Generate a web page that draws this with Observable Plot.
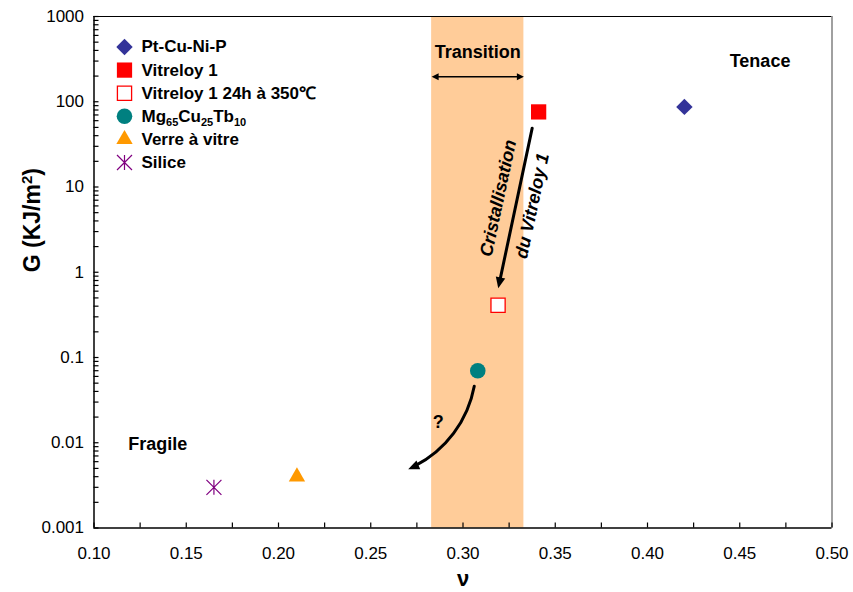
<!DOCTYPE html>
<html>
<head>
<meta charset="utf-8">
<script src="https://cdn.jsdelivr.net/npm/d3@7"></script>
<script src="https://cdn.jsdelivr.net/npm/@observablehq/plot@0.6"></script>
<style>
  body { margin: 0; background: #fff; }
  svg { display: block; }
</style>
</head>
<body>
<div id="chart"></div>
<script>
// ---------- data ----------
const series = ["Pt-Cu-Ni-P", "Vitreloy 1", "Vitreloy 1 24h à 350℃", "Mg65Cu25Tb10", "Verre à vitre", "Silice"];
const nu = [0.420, 0.341, 0.319, 0.308, 0.210, 0.165];
const G = [87, 76, 0.41, 0.070, 0.0040, 0.0030];

const xTicks = [0.10, 0.15, 0.20, 0.25, 0.30, 0.35, 0.40, 0.45, 0.50];
const xTickLabels = ["0.10", "0.15", "0.20", "0.25", "0.30", "0.35", "0.40", "0.45", "0.50"];
const xMinorTicks = [0.125, 0.175, 0.225, 0.275, 0.325, 0.375, 0.425, 0.475];
const yTicks = [0.001, 0.01, 0.1, 1, 10, 100, 1000];
const yTickLabels = ["0.001", "0.01", "0.1", "1", "10", "100", "1000"];

const transitionNu = [0.283, 0.333];

const labelTexts = ["Tenace", "Fragile", "Transition", "?"];
const labelNu = [0.461, 0.1345, 0.308, 0.2866];
const labelG = [295, 0.0097, 377, 0.0172];

const crystTexts = ["Cristallisation", "du Vitreloy 1"];
const crystNu = [0.3191, 0.3375];
const crystG = [7.4, 6.0];

// arrows: [nu1, G1, nu2, G2]
const crystArrow = [0.3375, 49, 0.3191, 0.65];
const questionArrow = [0.3061, 0.046, 0.2703, 0.0049];
const transitionArrowG = 197;

// ---------- styles ----------
const asterisk = {
  draw(ctx, size) {
    const h = Math.sqrt(size / Math.PI);
    ctx.moveTo(0, -h); ctx.lineTo(0, h);
    ctx.moveTo(-h, -h); ctx.lineTo(h, h);
    ctx.moveTo(-h, h); ctx.lineTo(h, -h);
  }
};
// filled arrowhead with its tip at the origin, pointing up
function head(len, halfW) {
  return {draw(ctx) { ctx.moveTo(0, 0); ctx.lineTo(halfW, len); ctx.lineTo(-halfW, len); ctx.closePath(); }};
}
const styles = [
  {symbol: "diamond2", r: 7.4, fill: "#333399", stroke: "none"},
  {symbol: "square", r: 8.6, fill: "#FF0000", stroke: "none"},
  {symbol: "square", r: 8.0, fill: "#FFFFFF", stroke: "#FF0000", strokeWidth: 1.3},
  {symbol: "circle", r: 7.8, fill: "#008080", stroke: "none"},
  {symbol: "triangle2", r: 7.8, fill: "#FF9900", stroke: "none"},
  {symbol: asterisk, r: 7.5, fill: "none", stroke: "#800080", strokeWidth: 1.2}
];

// minor log ticks
const yMinor = [];
for (let e = -3; e < 3; e++) for (let m = 2; m <= 9; m++) yMinor.push(m * Math.pow(10, e));

const idx = series.map((_, i) => i);

const marks = [
  // transition band
  Plot.rect([transitionNu], {x1: d => d[0], x2: d => d[1], y1: 0.001, y2: 1000, fill: "#FFCC99"}),
  // frame
  Plot.ruleY([1000], {stroke: "#000", strokeWidth: 1}),
  Plot.ruleX([0.5], {stroke: "#808080", strokeWidth: 1.5}),
  Plot.ruleX([0.1], {stroke: "#000", strokeWidth: 1.5}),
  Plot.ruleY([0.001], {stroke: "#000", strokeWidth: 1.5}),
  // ticks (inward)
  Plot.axisX(xTicks.concat(xMinorTicks), {anchor: "bottom", tickSize: -5, fill: "none", label: null, strokeWidth: 1.2}),
  Plot.axisY(yTicks.concat(yMinor), {anchor: "left", tickSize: -5, fill: "none", label: null, strokeWidth: 1.2}),
  // tick labels
  Plot.text(xTicks, {x: d => d, frameAnchor: "bottom", lineAnchor: "middle", dy: 26, text: (d, i) => xTickLabels[i], fontSize: 17}),
  Plot.text(yTicks, {y: d => d, frameAnchor: "left", dx: -10, textAnchor: "end", text: (d, i) => yTickLabels[i], fontSize: 17}),
  // axis titles
  Plot.text(["G (KJ/m2)"], {frameAnchor: "left", dx: -61, rotate: -90, fontSize: 23, fontWeight: "bold", text: d => d}),
  Plot.text(["ν"], {frameAnchor: "bottom", lineAnchor: "middle", dy: 51, fontSize: 22, fontWeight: "bold", text: d => d}),
  // annotations
  Plot.text(labelTexts, {x: (d, i) => labelNu[i], y: (d, i) => labelG[i], text: d => d, fontSize: 18, fontWeight: "bold"}),
  Plot.text(crystTexts, {x: (d, i) => crystNu[i], y: (d, i) => crystG[i], text: d => d, rotate: -78, fontSize: 18, fontWeight: "bold", fontStyle: "italic"}),
  // crystallisation arrow
  Plot.arrow([crystArrow], {x1: d => d[0], y1: d => d[1], x2: d => d[2], y2: d => d[3], strokeWidth: 3, headLength: 0, insetEnd: 7, stroke: "#000"}),
  Plot.dot([crystArrow], {x: d => d[2], y: d => d[3], symbol: head(11, 4.8), rotate: 192, fill: "#000", stroke: "none"}),
  // question arrow (curved)
  Plot.arrow([questionArrow], {x1: d => d[0], y1: d => d[1], x2: d => d[2], y2: d => d[3], strokeWidth: 3, headLength: 0, insetEnd: 7, bend: 28, stroke: "#000"}),
  Plot.dot([questionArrow], {x: d => d[2], y: d => d[3], symbol: head(11, 4.8), rotate: 247, fill: "#000", stroke: "none"}),
  // transition double arrow
  Plot.arrow([transitionNu], {x1: d => d[0], x2: d => d[1], y1: transitionArrowG, y2: transitionArrowG, strokeWidth: 1.5, headLength: 0, insetStart: 5, insetEnd: 5, stroke: "#000"}),
  Plot.dot([transitionNu[0]], {x: d => d, y: transitionArrowG, symbol: head(7, 3.5), rotate: 270, fill: "#000", stroke: "none"}),
  Plot.dot([transitionNu[1]], {x: d => d, y: transitionArrowG, symbol: head(7, 3.5), rotate: 90, fill: "#000", stroke: "none"}),
];

// data points
idx.forEach(i => {
  const s = styles[i];
  marks.push(Plot.dot([i], {x: j => nu[j], y: j => G[j], ...s}));
});

// legend
idx.forEach(i => {
  const s = styles[i];
  marks.push(Plot.dot([i], {frameAnchor: "top-left", dx: 30.5, dy: 30.5 + 23.1 * i, ...s}));
  marks.push(Plot.text([series[i]], {frameAnchor: "top-left", lineAnchor: "middle", dx: 47.5, dy: 30.5 + 23.1 * i, text: d => d, textAnchor: "start", fontSize: 17, fontWeight: "bold"}));
});

const chart = Plot.plot({
  width: 853,
  height: 592,
  marginLeft: 93.5,
  marginRight: 21.5,
  marginTop: 16,
  marginBottom: 64.5,
  style: {fontFamily: "'Liberation Sans', Arial, sans-serif", fontSize: "16px", color: "#000", background: "#fff"},
  x: {domain: [0.1, 0.5], axis: null},
  y: {type: "log", domain: [0.001, 1000], axis: null},
  marks
});

const NS = "http://www.w3.org/2000/svg";
function rebuild(t, parts, fs, shift) {
  while (t.firstChild) t.removeChild(t.firstChild);
  let cur = 0;
  parts.forEach(([str, kind]) => {
    const ts = document.createElementNS(NS, "tspan");
    ts.textContent = str;
    const target = kind === "sub" ? shift : kind === "sup" ? -shift : 0;
    if (target !== cur) { ts.setAttribute("dy", String(target - cur)); cur = target; }
    if (kind) ts.setAttribute("font-size", String(fs));
    t.appendChild(ts);
  });
}
chart.querySelectorAll("text").forEach(t => {
  if (t.textContent === "Mg65Cu25Tb10") {
    rebuild(t, [["Mg"], ["65", "sub"], ["Cu"], ["25", "sub"], ["Tb"], ["10", "sub"]], 11, 4);
  } else if (t.textContent === "G (KJ/m2)") {
    rebuild(t, [["G (KJ/m"], ["2", "sup"], [")"]], 15, 8);
  }
});

document.getElementById("chart").appendChild(chart);
</script>
</body>
</html>
